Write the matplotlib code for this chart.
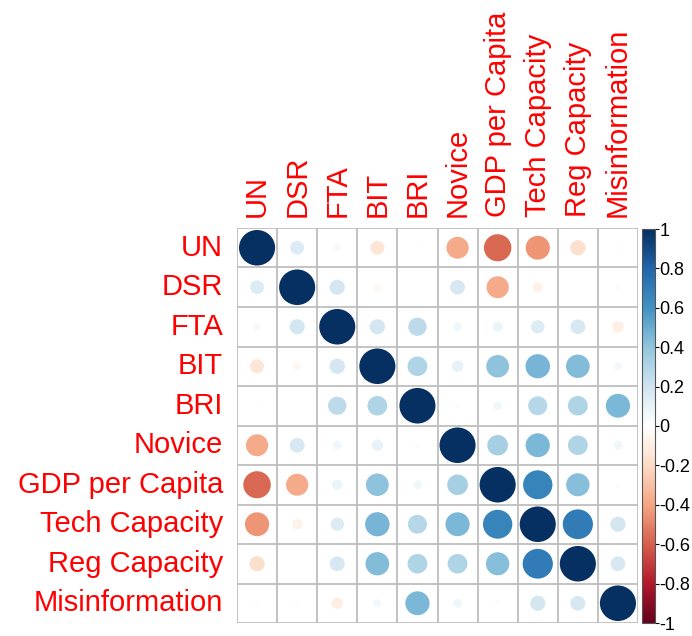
import matplotlib.pyplot as plt
import numpy as np
from matplotlib.colors import LinearSegmentedColormap
from matplotlib.patches import Circle
import matplotlib as mpl

plt.rcParams['font.family'] = ['Liberation Sans', 'DejaVu Sans']

labels = ['UN', 'DSR', 'FTA', 'BIT', 'BRI', 'Novice', 'GDP per Capita',
          'Tech Capacity', 'Reg Capacity', 'Misinformation']

# correlation matrix (rows/cols in the order of labels)
corr = [
    [1.00, 0.15, 0.04, -0.15, 0.01, -0.38, -0.58, -0.45, -0.18, -0.02],
    [0.15, 1.00, 0.18, -0.05, 0.00, 0.17, -0.38, -0.08, 0.00, 0.02],
    [0.04, 0.18, 1.00, 0.18, 0.26, 0.06, 0.08, 0.14, 0.17, -0.10],
    [-0.15, -0.05, 0.18, 1.00, 0.30, 0.10, 0.40, 0.46, 0.43, 0.05],
    [0.01, 0.00, 0.26, 0.30, 1.00, 0.02, 0.06, 0.28, 0.30, 0.45],
    [-0.38, 0.17, 0.06, 0.10, 0.02, 1.00, 0.33, 0.45, 0.30, 0.06],
    [-0.58, -0.38, 0.08, 0.40, 0.06, 0.33, 1.00, 0.66, 0.42, 0.02],
    [-0.45, -0.08, 0.14, 0.46, 0.28, 0.45, 0.66, 1.00, 0.70, 0.18],
    [-0.18, 0.00, 0.17, 0.43, 0.30, 0.30, 0.42, 0.70, 1.00, 0.17],
    [-0.02, 0.02, -0.10, 0.05, 0.45, 0.06, 0.02, 0.18, 0.17, 1.00],
]
corr = np.array(corr)

# RdBu palette as used by corrplot
col2 = ["#67001F", "#B2182B", "#D6604D", "#F4A582", "#FDDBC7", "#FFFFFF",
        "#D1E5F0", "#92C5DE", "#4393C3", "#2166AC", "#053061"]
cmap = LinearSegmentedColormap.from_list('corr', col2, N=200)
norm = mpl.colors.Normalize(vmin=-1, vmax=1)

W, H = 692, 636
fig = plt.figure(figsize=(W / 100, H / 100), dpi=100)
ax = fig.add_axes([237 / W, (H - 623) / H, 401 / W, 395 / H])

n = len(labels)
ax.set_xlim(0, n)
ax.set_ylim(n, 0)

# grid lines
for k in range(n + 1):
    ax.axhline(k, color='#BEBEBE', lw=1.3, zorder=1)
    ax.axvline(k, color='#BEBEBE', lw=1.3, zorder=1)

for i in range(n):
    for j in range(n):
        r = corr[i, j]
        rad = 0.9 * np.sqrt(abs(r)) / 2
        ax.add_patch(Circle((j + 0.5, i + 0.5), rad, facecolor=cmap(norm(r)),
                            edgecolor='none', zorder=2))

for k, lab in enumerate(labels):
    ax.text(-0.35, k + 0.5, lab, color='red', fontsize=21, ha='right',
            va='center', clip_on=False)
    ax.text(k + 0.5, -0.28, lab, color='red', fontsize=21, ha='center',
            va='bottom', rotation=90, clip_on=False)

ax.set_xticks([])
ax.set_yticks([])
for s in ax.spines.values():
    s.set_visible(False)

# colour legend
cax = fig.add_axes([642 / W, (H - 623) / H, 13 / W, 394 / H])
cb = mpl.colorbar.ColorbarBase(cax, cmap=cmap, norm=norm)
ticks = np.round(np.arange(-1, 1.01, 0.2), 1)
cb.set_ticks(ticks)
cb.set_ticklabels(['-1' if t == -1 else '1' if t == 1 else '0' if t == 0
                   else f'{t:g}'.replace('0.', '.', 0) for t in ticks])
cb.outline.set_edgecolor('#555555')
cb.outline.set_linewidth(0.8)
cax.tick_params(length=3, width=0.8, pad=0, labelsize=13, colors='black')

plt.savefig('out.png', dpi=100)
